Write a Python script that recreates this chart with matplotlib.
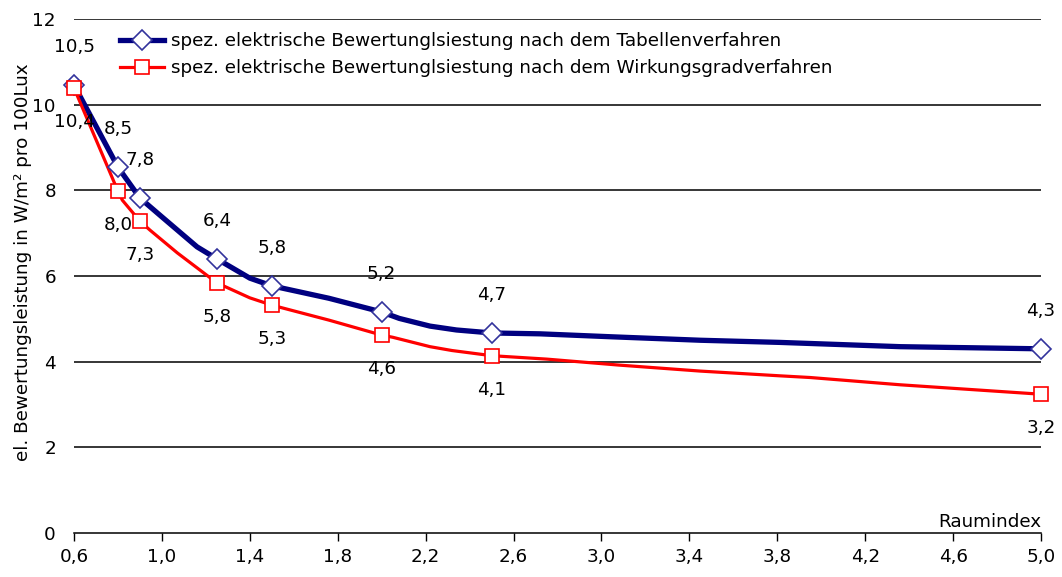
import matplotlib
matplotlib.use("Agg")
import matplotlib.pyplot as plt
from matplotlib.lines import Line2D
from matplotlib.ticker import FuncFormatter

plt.rcParams['font.family'] = ['DejaVu Sans']

# Marker points (Raumindex)
raumindex = [0.6, 0.8, 0.9, 1.25, 1.5, 2.0, 2.5, 5.0]
tabellen = [10.46, 8.54, 7.82, 6.40, 5.77, 5.16, 4.67, 4.30]
wirkungsgrad = [10.39, 7.98, 7.28, 5.84, 5.32, 4.62, 4.14, 3.24]

# Curve points
tab_curve_x = [0.6, 0.8, 0.9, 1.0, 1.16, 1.25, 1.4, 1.5, 1.76, 2.0, 2.08, 2.22, 2.34, 2.5,
               2.72, 3.05, 3.45, 3.81, 4.36, 5.0]
tab_curve_y = [10.46, 8.54, 7.82, 7.38, 6.68, 6.40, 5.95, 5.77, 5.48, 5.16, 5.01, 4.83, 4.74, 4.67,
               4.65, 4.58, 4.50, 4.45, 4.35, 4.30]
wir_curve_x = [0.6, 0.8, 0.82, 0.9, 0.946, 1.07, 1.16, 1.25, 1.4, 1.5, 1.76, 2.0, 2.05, 2.22, 2.32,
               2.5, 2.75, 3.08, 3.45, 3.81, 3.95, 4.36, 5.0]
wir_curve_y = [10.39, 7.98, 7.77, 7.28, 7.07, 6.54, 6.19, 5.84, 5.49, 5.32, 4.97, 4.62, 4.57, 4.35, 4.26,
               4.14, 4.06, 3.92, 3.78, 3.67, 3.63, 3.46, 3.24]

x_ticks = [0.6, 1.0, 1.4, 1.8, 2.2, 2.6, 3.0, 3.4, 3.8, 4.2, 4.6, 5.0]
y_ticks = [0, 2, 4, 6, 8, 10, 12]

label_tab = "spez. elektrische Bewertunglsiestung nach dem Tabellenverfahren"
label_wir = "spez. elektrische Bewertunglsiestung nach dem Wirkungsgradverfahren"

navy = "#000080"
navy_edge = "#33339c"
red = "#ff0000"
fs = 13.2

fig = plt.figure(figsize=(10.62, 5.77), dpi=100)
ax = fig.add_axes([74 / 1062, 1 - 533 / 577, (1041 - 74) / 1062, (533 - 19) / 577])

ax.set_xlim(0.6, 5.0)
ax.set_ylim(0, 12)

for yv in y_ticks[1:]:
    ax.axhline(yv, color='black', lw=1.1, zorder=1)

ax.plot(tab_curve_x, tab_curve_y, color=navy, lw=3.8, solid_joinstyle='round', zorder=3)
ax.plot(wir_curve_x, wir_curve_y, color=red, lw=2.3, solid_joinstyle='round', zorder=4)
ax.plot(raumindex, tabellen, ls='none', marker='D', ms=10.5, mfc='white', mec=navy_edge,
        mew=1.2, zorder=5, clip_on=False)
ax.plot(raumindex, wirkungsgrad, ls='none', marker='s', ms=10.5, mfc='white', mec=red,
        mew=1.2, zorder=6, clip_on=False)

def fmt(v):
    return f"{v:.1f}".replace('.', ',')

for xv, yv in zip(raumindex, tabellen):
    ax.annotate(fmt(yv), (xv, yv), xytext=(0, 27.5), textcoords='offset points',
                ha='center', va='center', fontsize=fs, zorder=7, annotation_clip=False)
for xv, yv in zip(raumindex, wirkungsgrad):
    ax.annotate(fmt(yv), (xv, yv), xytext=(0, -24.5), textcoords='offset points',
                ha='center', va='center', fontsize=fs, zorder=7, annotation_clip=False)

ax.set_xticks(x_ticks)
ax.set_yticks(y_ticks)
ax.xaxis.set_major_formatter(FuncFormatter(lambda v, p: f"{v:.1f}".replace('.', ',')))
ax.yaxis.set_major_formatter(FuncFormatter(lambda v, p: f"{v:.0f}"))
ax.tick_params(axis='x', direction='out', length=6, width=1, pad=5, labelsize=fs)
ax.tick_params(axis='y', length=0, pad=13, labelsize=fs)

for s in ['top', 'right', 'left']:
    ax.spines[s].set_visible(False)
ax.spines['bottom'].set_linewidth(1.1)

ax.set_ylabel("el. Bewertungsleistung in W/m² pro 100Lux", fontsize=fs, labelpad=0.5)
ax.yaxis.label.set_y(0.527)
ax.text(1.0, 0.003, "Raumindex", transform=ax.transAxes, ha='right', va='bottom', fontsize=fs)

handles = [
    Line2D([], [], color=navy, lw=3.8, marker='D', ms=10, mfc='white', mec=navy_edge, mew=1.2),
    Line2D([], [], color=red, lw=2.3, marker='s', ms=10, mfc='white', mec=red, mew=1.2),
]
fig.legend(handles, [label_tab, label_wir], loc='upper left',
           bbox_to_anchor=(113 / 1062, 1 - 25 / 577), frameon=False, fontsize=fs,
           handlelength=2.4, handletextpad=0.35, labelspacing=0.5, borderaxespad=0)

fig.savefig("out.png", dpi=100)
